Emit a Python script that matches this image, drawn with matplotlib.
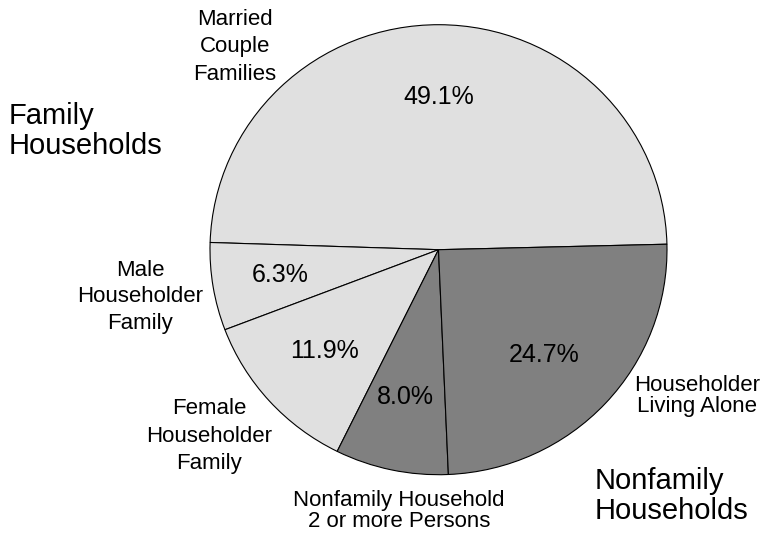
import matplotlib
matplotlib.use("Agg")
import matplotlib.pyplot as plt

plt.rcParams['font.family'] = ['Liberation Sans', 'DejaVu Sans']

# Data
categories = ["Married\nCouple\nFamilies", "Male\nHouseholder\nFamily",
              "Female\nHouseholder\nFamily", "Nonfamily Household\n2 or more Persons",
              "Householder\nLiving Alone"]
values = [49.1, 6.3, 11.9, 8.0, 24.7]
groups = ["Family", "Family", "Family", "Nonfamily", "Nonfamily"]
group_labels = {"Family": "Family\nHouseholds", "Nonfamily": "Nonfamily\nHouseholds"}
group_colors = {"Family": "#e0e0e0", "Nonfamily": "#808080"}

W, H = 765, 535
fig = plt.figure(figsize=(W / 100, H / 100), dpi=100)

def fx(x):
    return x / W

def fy(y):
    return 1 - y / H

# pie occupies pixel box [210, 667] x [24.7, 474.7]
left, right, top, bottom = 210, 667, 24.7, 474.7
ax = fig.add_axes([fx(left), fy(bottom), (right - left) / W, (bottom - top) / H])
colors = [group_colors[g] for g in groups]
ax.pie(values, colors=colors, startangle=1.4, counterclock=True, radius=1,
       wedgeprops=dict(edgecolor="black", linewidth=0.8))
ax.set_aspect('auto')
ax.set_xlim(-1, 1)
ax.set_ylim(-1, 1)
ax.axis('off')

# percentage labels (pixel positions of their centers)
pct_pos = [(439, 97), (280, 275), (324, 351), (405, 397), (544, 355)]
for v, (x, y) in zip(values, pct_pos):
    fig.text(fx(x), fy(y), f"{v:.1f}%", ha='center', va='center', fontsize=18)

# category labels
cat_pos = [(235, 47, 1.4), (140, 297, 1.32), (209, 436, 1.4),
           (399, 511, 0.95), (697, 396, 0.95)]
for lab, (x, y, ls) in zip(categories, cat_pos):
    fig.text(fx(x), fy(y), lab, ha='center', va='center', multialignment='center',
             fontsize=16, linespacing=ls)

# group labels
fig.text(fx(9), fy(131), group_labels["Family"], ha='left', va='center',
         fontsize=21, linespacing=1.08)
fig.text(fx(595), fy(496), group_labels["Nonfamily"], ha='left', va='center',
         fontsize=21, linespacing=1.08)

fig.savefig("out.png", dpi=100)
